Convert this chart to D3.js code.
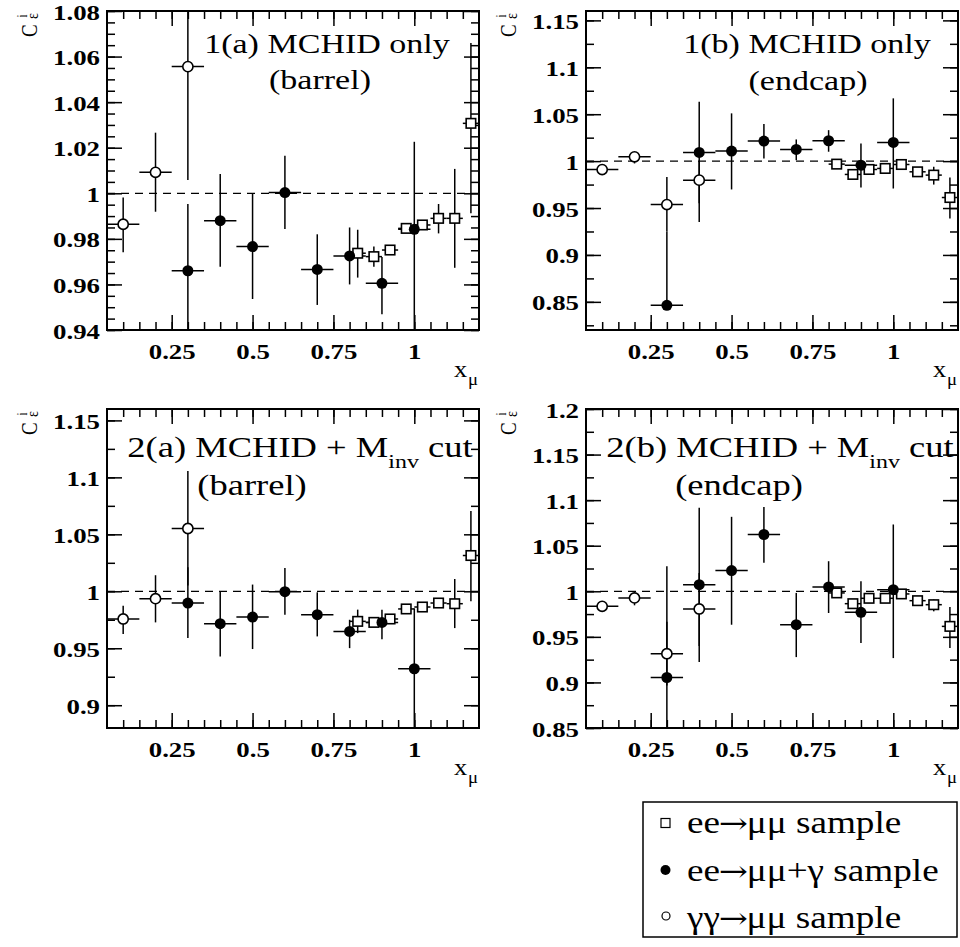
<!DOCTYPE html>
<html>
<head>
<meta charset="utf-8">
<script src="https://cdn.jsdelivr.net/npm/d3@7"></script>
<style>
  body { margin: 0; background: #fff; }
</style>
</head>
<body>
<svg id="chart" width="960" height="947"></svg>
<script>
// ---- bin centres (x_mu) ----
const eeX  = [0.825, 0.875, 0.925, 0.975, 1.025, 1.075, 1.125, 1.175]; // ee->mumu, half-width 0.025
const gamX = [0.3, 0.4, 0.5, 0.6, 0.7, 0.8, 0.9, 1.0];                  // ee->mumu+gamma, half-width 0.05
const ggX3 = [0.1, 0.2, 0.3];                                          // gammagamma->mumu (barrel)
const ggX4 = [0.1, 0.2, 0.3, 0.4];                                     // gammagamma->mumu (endcap)

// ---- tick labels ----
const xTicks   = [0.25, 0.5, 0.75, 1];
const yTicks1a = [0.94, 0.96, 0.98, 1, 1.02, 1.04, 1.06, 1.08];
const yTicks1b = [0.85, 0.9, 0.95, 1, 1.05, 1.1, 1.15];
const yTicks2a = [0.9, 0.95, 1, 1.05, 1.1, 1.15];
const yTicks2b = [0.85, 0.9, 0.95, 1, 1.05, 1.1, 1.15, 1.2];

// ---- 1(a) MCHID only, barrel ----
const ee1a    = [0.9737, 0.9722, 0.9751, 0.9846, 0.9861, 0.9890, 0.9890, 1.0307];
const ee1aLo  = [0.9630, 0.9678, 0.9730, 0.9830, 0.9845, 0.9824, 0.9673, 0.9912];
const ee1aHi  = [0.9840, 0.9766, 0.9770, 0.9860, 0.9877, 0.9953, 1.0107, 1.0660];
const gam1a   = [0.9660, 0.9880, 0.9766, 1.0003, 0.9666, 0.9725, 0.9605, 0.9842];
const gam1aLo = [0.9200, 0.9678, 0.9536, 0.9843, 0.9510, 0.9600, 0.9469, 0.9350];
const gam1aHi = [0.9953, 1.0085, 0.9997, 1.0165, 0.9820, 0.9850, 0.9720, 1.0226];
const gg1a    = [0.9864, 1.0092, 1.0556];
const gg1aLo  = [0.9741, 0.9919, 1.0058];
const gg1aHi  = [0.9982, 1.0266, 1.1050];

// ---- 1(b) MCHID only, endcap ----
const ee1b    = [0.9968, 0.9858, 0.9911, 0.9922, 0.9964, 0.9886, 0.9851, 0.9612];
const ee1bLo  = [0.9940, 0.9830, 0.9880, 0.9890, 0.9930, 0.9850, 0.9750, 0.9388];
const ee1bHi  = [0.9995, 0.9886, 0.9940, 0.9950, 0.9995, 0.9920, 0.9940, 0.9826];
const gam1b   = [0.8463, 1.0093, 1.0107, 1.0214, 1.0125, 1.0217, 0.9957, 1.0199];
const gam1bLo = [0.8450, 0.9550, 0.9698, 1.0028, 1.0010, 1.0100, 0.9719, 0.9708];
const gam1bHi = [0.9250, 1.0633, 1.0509, 1.0395, 1.0231, 1.0330, 1.0189, 1.0669];
const gg1b    = [0.9910, 1.0046, 0.9537, 0.9797];
const gg1bLo  = [0.9880, 0.9975, 0.9250, 0.9352];
const gg1bHi  = [0.9940, 1.0080, 0.9830, 1.0000];

// ---- 2(a) MCHID + Minv cut, barrel ----
const ee2a    = [0.9736, 0.9727, 0.9757, 0.9845, 0.9862, 0.9897, 0.9891, 1.0314];
const ee2aLo  = [0.9633, 0.9700, 0.9730, 0.9820, 0.9840, 0.9855, 0.9677, 0.9912];
const ee2aHi  = [0.9839, 0.9755, 0.9780, 0.9870, 0.9885, 0.9940, 1.0108, 1.0704];
const gam2a   = [0.9897, 0.9716, 0.9774, 0.9997, 0.9795, 0.9648, 0.9727, 0.9320];
const gam2aLo = [0.9589, 0.9428, 0.9493, 0.9795, 0.9604, 0.9501, 0.9580, 0.8700];
const gam2aHi = [1.0210, 1.0000, 1.0059, 1.0205, 0.9991, 0.9750, 0.9839, 0.9850];
const gg2a    = [0.9757, 0.9935, 1.0551];
const gg2aLo  = [0.9625, 0.9727, 1.0050];
const gg2aHi  = [0.9874, 1.0141, 1.1056];

// ---- 2(b) MCHID + Minv cut, endcap ----
const ee2b    = [0.9982, 0.9864, 0.9923, 0.9923, 0.9971, 0.9897, 0.9853, 0.9615];
const ee2bLo  = [0.9955, 0.9835, 0.9895, 0.9895, 0.9945, 0.9870, 0.9780, 0.9377];
const ee2bHi  = [1.0010, 0.9890, 0.9950, 0.9950, 0.9995, 0.9925, 0.9910, 0.9828];
const gam2b   = [0.9054, 1.0073, 1.0227, 1.0623, 0.9633, 1.0048, 0.9769, 1.0018];
const gam2bLo = [0.7800, 0.9223, 0.9633, 1.0312, 0.9278, 0.9762, 0.9432, 0.9267];
const gam2bHi = [1.0275, 1.0916, 1.0817, 1.0924, 0.9982, 1.0330, 1.0110, 1.0733];
const gg2b    = [0.9835, 0.9927, 0.9315, 0.9806];
const gg2bLo  = [0.9810, 0.9846, 0.8965, 0.9400];
const gg2bHi  = [0.9860, 0.9990, 0.9665, 1.0200];

// legend rows: [left part, arrow, right part]
const legendLabels = [
  ["ee", "\u2192", "\u03bc\u03bc sample"],
  ["ee", "\u2192", "\u03bc\u03bc+\u03b3 sample"],
  ["\u03b3\u03b3", "\u2192", "\u03bc\u03bc sample"]
];

// ---- layout ----
const FONT = "'Liberation Serif', 'Times New Roman', Times, serif";
const svg = d3.select("#chart");
const PW = 372, PH = 319;
const xDomain = [0.05, 1.2];

const panels = [
  { id: "p1a", left: 107, top: 11, yDomain: [0.94, 1.08], yTicks: yTicks1a, yMinor: 0.005,
    line1: ["1(a) MCHID only"], line2: "(barrel)", fs: 27, l1x: 220, l1y: 42, l2x: 213, l2y: 78,
    ee: [ee1a, ee1aLo, ee1aHi], gam: [gam1a, gam1aLo, gam1aHi], gg: [ggX3, gg1a, gg1aLo, gg1aHi] },
  { id: "p1b", left: 586, top: 11, yDomain: [0.82, 1.16], yTicks: yTicks1b, yMinor: 0.025,
    line1: ["1(b) MCHID only"], line2: "(endcap)", fs: 27, l1x: 221, l1y: 42, l2x: 222, l2y: 79,
    ee: [ee1b, ee1bLo, ee1bHi], gam: [gam1b, gam1bLo, gam1bHi], gg: [ggX4, gg1b, gg1bLo, gg1bHi] },
  { id: "p2a", left: 107, top: 409, yDomain: [0.88, 1.16], yTicks: yTicks2a, yMinor: 0.025,
    line1: ["2(a) MCHID + M", "inv", " cut"], line2: "(barrel)", fs: 29, l1x: 193, l1y: 48, l2x: 145, l2y: 86,
    ee: [ee2a, ee2aLo, ee2aHi], gam: [gam2a, gam2aLo, gam2aHi], gg: [ggX3, gg2a, gg2aLo, gg2aHi] },
  { id: "p2b", left: 586, top: 409, yDomain: [0.85, 1.2], yTicks: yTicks2b, yMinor: 0.025,
    line1: ["2(b) MCHID + M", "inv", " cut"], line2: "(endcap)", fs: 29, l1x: 194, l1y: 48, l2x: 153, l2y: 86,
    ee: [ee2b, ee2bLo, ee2bHi], gam: [gam2b, gam2bLo, gam2bHi], gg: [ggX4, gg2b, gg2bLo, gg2bHi] }
];

const fmt = d => String(+d.toFixed(3));
const TICK = 15, MINOR = 8, SW = 1.5;

function styleTicks(sel) {
  sel.attr("font-family", null).attr("font-size", null);
  sel.select(".domain").remove();
  sel.selectAll("line").attr("stroke", "#000").attr("stroke-width", SW);
  return sel;
}

function drawPanel(p) {
  const g = svg.append("g").attr("id", p.id);
  const x = d3.scaleLinear().domain(xDomain).range([p.left, p.left + PW]);
  const y = d3.scaleLinear().domain(p.yDomain).range([p.top + PH, p.top]);
  const bottom = p.top + PH, right = p.left + PW;

  const xMinor = d3.range(2, 24).map(i => +(i * 0.05).toFixed(3));
  const n0 = Math.ceil(p.yDomain[0] / p.yMinor - 1e-6), n1 = Math.floor(p.yDomain[1] / p.yMinor + 1e-6);
  const yMinor = d3.range(n0, n1 + 1).map(i => +(i * p.yMinor).toFixed(4));

  // bottom axis: labelled major ticks + minor ticks
  const bx = styleTicks(g.append("g").attr("transform", `translate(0,${bottom})`)
    .call(d3.axisBottom(x).tickValues(xTicks).tickSize(-TICK).tickFormat(fmt)));
  bx.selectAll("text").attr("y", null).attr("dy", null)
    .attr("transform", "translate(0,29) scale(1.22,1)")
    .style("font-family", FONT).style("font-size", "22px").style("font-weight", "bold").attr("fill", "#000");
  styleTicks(g.append("g").attr("transform", `translate(0,${bottom})`)
    .call(d3.axisBottom(x).tickValues(xMinor).tickSize(-MINOR).tickFormat("")));
  // top axis (unlabelled)
  styleTicks(g.append("g").attr("transform", `translate(0,${p.top})`)
    .call(d3.axisTop(x).tickValues(xTicks).tickSize(-TICK).tickFormat("")));
  styleTicks(g.append("g").attr("transform", `translate(0,${p.top})`)
    .call(d3.axisTop(x).tickValues(xMinor).tickSize(-MINOR).tickFormat("")));

  // left axis
  const ly = styleTicks(g.append("g").attr("transform", `translate(${p.left},0)`)
    .call(d3.axisLeft(y).tickValues(p.yTicks).tickSize(-TICK).tickFormat(fmt)));
  ly.selectAll("text").attr("x", null).attr("dy", null)
    .attr("transform", "translate(-7,8) scale(1.22,1)")
    .style("font-family", FONT).style("font-size", "22px").style("font-weight", "bold").attr("fill", "#000");
  styleTicks(g.append("g").attr("transform", `translate(${p.left},0)`)
    .call(d3.axisLeft(y).tickValues(yMinor).tickSize(-MINOR).tickFormat("")));
  // right axis (unlabelled)
  styleTicks(g.append("g").attr("transform", `translate(${right},0)`)
    .call(d3.axisRight(y).tickValues(p.yTicks).tickSize(-TICK).tickFormat("")));
  styleTicks(g.append("g").attr("transform", `translate(${right},0)`)
    .call(d3.axisRight(y).tickValues(yMinor).tickSize(-MINOR).tickFormat("")));

  // frame
  g.append("rect").attr("x", p.left).attr("y", p.top).attr("width", PW).attr("height", PH)
    .attr("fill", "none").attr("stroke", "#000").attr("stroke-width", 2);

  // y-axis title: C with subscript epsilon and superscript i, reading upward
  const yt = g.append("g").attr("transform", `translate(${p.left - 70},${p.top + 26}) scale(1.25,1) rotate(-90)`);
  yt.append("text").attr("x", 0).attr("y", 0).style("font-size", "19px").text("C");
  yt.append("text").attr("x", 18).attr("y", 1).style("font-size", "14px").text("\u03b5");
  yt.append("text").attr("x", 19.5).attr("y", -8).style("font-size", "11px").text("i");

  // x-axis title
  g.append("text").attr("transform", `translate(${right - 25},${bottom + 47}) scale(1.1,1)`)
    .style("font-size", "24px").text("x");
  g.append("text").attr("transform", `translate(${right - 11},${bottom + 55}) scale(1.1,1)`)
    .style("font-size", "17px").text("\u03bc");

  // panel title
  const t1 = g.append("text").attr("text-anchor", "middle")
    .attr("transform", `translate(${p.left + p.l1x},${p.top + p.l1y}) scale(1.26,1)`)
    .style("font-size", p.fs + "px");
  t1.append("tspan").text(p.line1[0]);
  if (p.line1.length > 1) {
    t1.append("tspan").attr("dy", 11).style("font-size", "19px").text(p.line1[1]);
    t1.append("tspan").attr("dy", -11).text(p.line1[2]);
  }
  g.append("text").attr("text-anchor", "middle")
    .attr("transform", `translate(${p.left + p.l2x},${p.top + p.l2y}) scale(1.26,1)`)
    .style("font-size", p.fs + "px").text(p.line2);

  // data area
  const clipId = "clip-" + p.id;
  g.append("clipPath").attr("id", clipId).append("rect")
    .attr("x", p.left).attr("y", p.top).attr("width", PW).attr("height", PH);
  const d = g.append("g").attr("clip-path", `url(#${clipId})`);

  d.append("line").attr("x1", x(xDomain[0])).attr("x2", x(xDomain[1]))
    .attr("y1", y(1)).attr("y2", y(1))
    .attr("stroke", "#000").attr("stroke-width", 1.3).attr("stroke-dasharray", "8,6");

  const mk = (xs, [v, lo, hi], hw) => xs.map((xi, i) => ({ x: xi, v: v[i], lo: lo[i], hi: hi[i], hw }));
  const eePts = mk(eeX, p.ee, 0.025);
  const gamPts = mk(gamX, p.gam, 0.05);
  const ggPts = mk(p.gg[0], p.gg.slice(1), 0.05);
  const all = eePts.concat(gamPts, ggPts);

  const err = d.append("g").attr("stroke", "#000").attr("stroke-width", SW);
  err.selectAll(".ev").data(all).join("line")
    .attr("x1", q => x(q.x)).attr("x2", q => x(q.x))
    .attr("y1", q => y(q.lo)).attr("y2", q => y(q.hi));
  err.selectAll(".eh").data(all).join("line")
    .attr("x1", q => x(q.x - q.hw)).attr("x2", q => x(q.x + q.hw))
    .attr("y1", q => y(q.v)).attr("y2", q => y(q.v));

  const S = 9.5;
  d.append("g").selectAll("rect").data(eePts).join("rect")
    .attr("x", q => x(q.x) - S / 2).attr("y", q => y(q.v) - S / 2)
    .attr("width", S).attr("height", S)
    .attr("fill", "#fff").attr("stroke", "#000").attr("stroke-width", 1.6);
  d.append("g").selectAll("circle").data(gamPts).join("circle")
    .attr("cx", q => x(q.x)).attr("cy", q => y(q.v)).attr("r", 5.5).attr("fill", "#000");
  d.append("g").selectAll("circle").data(ggPts).join("circle")
    .attr("cx", q => x(q.x)).attr("cy", q => y(q.v)).attr("r", 5.1)
    .attr("fill", "#fff").attr("stroke", "#000").attr("stroke-width", 1.6);
}

panels.forEach(drawPanel);

// ---- legend ----
const lg = svg.append("g");
lg.append("rect").attr("x", 643).attr("y", 802).attr("width", 314).attr("height", 135)
  .attr("fill", "#fff").attr("stroke", "#000").attr("stroke-width", 1.5);
const rowY = [833, 881, 928];
lg.append("rect").attr("x", 661).attr("y", rowY[0] - 14.5).attr("width", 9).attr("height", 9)
  .attr("fill", "#fff").attr("stroke", "#000").attr("stroke-width", 1.2);
lg.append("circle").attr("cx", 665.5).attr("cy", rowY[1] - 11).attr("r", 5).attr("fill", "#000");
lg.append("circle").attr("cx", 666).attr("cy", rowY[2] - 12).attr("r", 4)
  .attr("fill", "#fff").attr("stroke", "#000").attr("stroke-width", 1.2);
legendLabels.forEach((parts, i) => {
  const t = lg.append("text").attr("transform", `translate(687,${rowY[i]}) scale(1.2,1)`)
    .style("font-size", "31px");
  t.append("tspan").text(parts[0]);
  t.append("tspan").style("font-family", "'DejaVu Serif', serif").style("font-size", "29px")
    .attr("dx", -1).text(parts[1]);
  t.append("tspan").attr("dx", -1).text(parts[2]);
});

// serif face for every label
svg.selectAll("text").each(function () {
  if (!this.style.fontFamily) d3.select(this).style("font-family", FONT);
});
</script>
</body>
</html>
